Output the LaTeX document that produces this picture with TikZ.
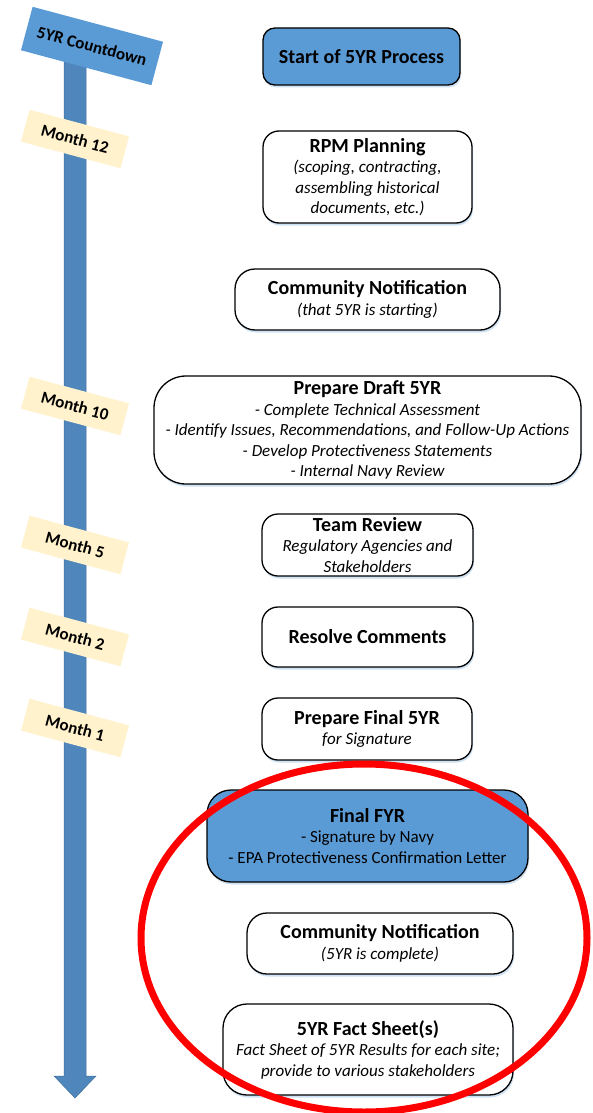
\documentclass[tikz,border=0pt]{standalone}
\usepackage{fontspec}
\setmainfont{Carlito}
\usetikzlibrary{shadows}
\definecolor{boxblue}{RGB}{91,155,213}
\definecolor{shaftblue}{RGB}{79,134,187}
\definecolor{tagyellow}{RGB}{255,242,204}
\definecolor{ringred}{RGB}{255,0,0}
\newcommand{\ttl}[1]{{\bfseries\upshape\fontsize{20}{21}\selectfont #1}}

\begin{document}
\begin{tikzpicture}[x=1pt,y=-1pt,
  stepbox/.style={draw,line width=1.3pt,rounded corners=16pt,fill=white,align=center,inner sep=0pt,
    font=\fontsize{17}{20.5}\selectfont\itshape,
    drop shadow={fill=boxblue!30,opacity=1,shadow xshift=1pt,shadow yshift=-2.5pt}},
  bluebox/.style={stepbox,fill=boxblue,font=\fontsize{17}{20.5}\selectfont},
  monthtag/.style={fill=tagyellow,rotate=-15,minimum width=103pt,minimum height=33pt,inner sep=0pt,
    font=\bfseries\fontsize{17}{18}\selectfont}]
\useasboundingbox (0,0) rectangle (593,1113);
% countdown arrow
\filldraw[fill=shaftblue,draw=shaftblue!85!black,line width=0.5pt] (64,60) -- (86,60) -- (86,1076) -- (96,1076)
  -- (75,1098) -- (54,1076) -- (64,1076) -- cycle;
\node[fill=boxblue,rotate=-15,minimum width=135pt,minimum height=45pt,inner sep=0pt,
  font=\bfseries\fontsize{17}{18}\selectfont] (countdown) at (92,46) {5YR Countdown};
\foreach \m/\y in {12/139,10/406,5/545,2/637,1/728}
  \node[monthtag] (month\m) at (75,\y) {Month \m};
% process steps
\node[bluebox,minimum width=197pt,minimum height=57pt,rounded corners=12pt] (start) at (361.5,56.5) {\ttl{Start of 5YR Process}};
\node[stepbox,minimum width=209pt,minimum height=92pt] (rpm) at (367.5,177)
  {\ttl{RPM Planning}\\(scoping, contracting,\\assembling historical\\documents, etc.)};
\node[stepbox,minimum width=265pt,minimum height=61pt,rounded corners=20pt] (notify) at (367.5,299.5)
  {\ttl{Community Notification}\\(that 5YR is starting)};
\node[stepbox,minimum width=427pt,minimum height=108pt,rounded corners=32pt] (draft) at (367.5,430)
  {\ttl{Prepare Draft 5YR}\\- Complete Technical Assessment\\- Identify Issues, Recommendations, and Follow-Up Actions\\
   - Develop Protectiveness Statements\\- Internal Navy Review};
\node[stepbox,minimum width=211pt,minimum height=62pt] (team) at (367.5,545)
  {\ttl{Team Review}\\Regulatory Agencies and\\Stakeholders};
\node[stepbox,minimum width=211pt,minimum height=60pt] (resolve) at (367.5,637) {\ttl{Resolve Comments}};
\node[stepbox,minimum width=210pt,minimum height=62pt] (final) at (367,729)
  {\ttl{Prepare Final 5YR}\\for Signature};
\node[bluebox,minimum width=321pt,minimum height=92pt,rounded corners=24pt] (finalfyr) at (367.5,836)
  {\ttl{Final FYR}\\- Signature by Navy\\- EPA Protectiveness Confirmation Letter};
\node[stepbox,minimum width=266pt,minimum height=61pt,rounded corners=20pt] (done) at (380,943.5)
  {\ttl{Community Notification}\\(5YR is complete)};
\node[stepbox,minimum width=290pt,minimum height=91pt,rounded corners=24pt] (facts) at (368,1049.5)
  {\ttl{5YR Fact Sheet(s)}\\Fact Sheet of 5YR Results for each site;\\provide to various stakeholders};
% highlight
\draw[ringred,line width=7pt] (364,938) ellipse [x radius=223pt,y radius=174pt];
\end{tikzpicture}
\end{document}
